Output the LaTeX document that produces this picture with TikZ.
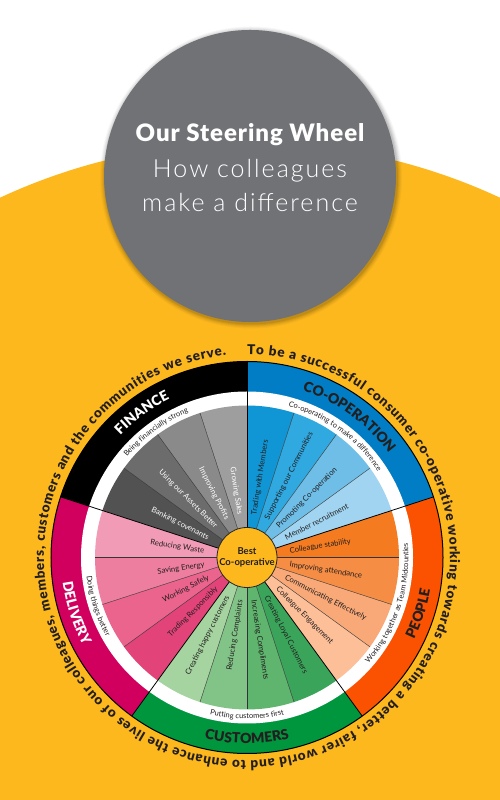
\documentclass[tikz,border=0pt]{standalone}
\usepackage{fontspec}
\setmainfont{Lato}
\newfontfamily\lightf{Lato Light}[LetterSpace=8]
\newfontfamily\titleb{Lato Black}[LetterSpace=4]
\newfontfamily\blackf{Lato Black}
\usetikzlibrary{decorations.text}
\definecolor{cyel}{RGB}{253,184,30}
\definecolor{cgray}{RGB}{112,114,118}
\definecolor{cblue}{RGB}{0,125,196}
\definecolor{corg}{RGB}{250,82,0}
\definecolor{cgrn}{RGB}{0,150,62}
\definecolor{cmag}{RGB}{209,0,95}
\definecolor{ctxt}{RGB}{35,31,32}
\definecolor{f1}{RGB}{158,158,158}
\definecolor{f2}{RGB}{138,138,138}
\definecolor{f3}{RGB}{108,108,108}
\definecolor{f4}{RGB}{82,82,82}
\definecolor{b1}{RGB}{16,150,212}
\definecolor{b2}{RGB}{48,168,224}
\definecolor{b3}{RGB}{110,190,232}
\definecolor{b4}{RGB}{160,212,240}
\definecolor{o1}{RGB}{244,123,32}
\definecolor{o2}{RGB}{246,141,68}
\definecolor{o3}{RGB}{249,169,120}
\definecolor{o4}{RGB}{252,191,152}
\definecolor{g1}{RGB}{165,212,160}
\definecolor{g2}{RGB}{130,196,135}
\definecolor{g3}{RGB}{95,180,110}
\definecolor{g4}{RGB}{58,165,90}
\definecolor{m1}{RGB}{242,155,182}
\definecolor{m2}{RGB}{238,126,160}
\definecolor{m3}{RGB}{234,100,142}
\definecolor{m4}{RGB}{226,68,122}
\newcommand\bandfont{\blackf\fontsize{14}{14}\selectfont}
\newcommand\ringfont{\fontsize{7.5}{8}\selectfont}
\newcommand\outfont{\blackf\fontsize{13.5}{13.5}\selectfont}
\begin{document}
\begin{tikzpicture}[x=1pt,y=1pt,
  seg/.style={inner sep=0pt, font=\fontsize{7.7}{9}\selectfont, text=ctxt},
  segR/.style={seg, anchor=mid west},
  segL/.style={seg, anchor=mid east},
  wtxt/.style={text=white},
  ttl/.style={text=white, anchor=base, inner sep=0pt},
  subline/.style={black!80, line width=0.4pt},
  catline/.style={black, line width=0.8pt}]
\useasboundingbox (0,0) rectangle (500,800);
\fill[white] (0,0) rectangle (500,800);
\begin{scope}
  \clip (0,0) rectangle (500,800);
  \fill[cyel] (250,64.4) circle[radius=593];
\end{scope}
% title disc with soft shadow
\foreach \r/\o in {151/0.03,150/0.04,149/0.05,148/0.06,147/0.08}{
  \fill[black,opacity=\o] (251,622.5) circle[radius=\r];
}
\fill[cgray] (250,624) circle[radius=146];
\node[ttl, font=\titleb\fontsize{24}{24}\selectfont] (title) at (250,658) {Our Steering Wheel};
\node[ttl, font=\lightf\fontsize{25}{25}\selectfont] (sub1) at (250,622) {How colleagues};
\node[ttl, font=\lightf\fontsize{25}{25}\selectfont] (sub2) at (250,588) {make a difference};

\begin{scope}[shift={(247,242.5)}]
  \coordinate (C) at (0,0);
  % category bands
  \fill[cblue] (C) -- (18:196) arc[start angle=18,end angle=90,radius=196] -- cycle;
  \fill[black] (C) -- (90:196) arc[start angle=90,end angle=162,radius=196] -- cycle;
  \fill[cmag] (C) -- (162:196) arc[start angle=162,end angle=234,radius=196] -- cycle;
  \fill[cgrn] (C) -- (234:196) arc[start angle=234,end angle=306,radius=196] -- cycle;
  \fill[corg] (C) -- (306:196) arc[start angle=306,end angle=378,radius=196] -- cycle;
  \fill[white] (C) circle[radius=166];
  % sub segments
  \foreach \a/\c in {72/b1,54/b2,36/b3,18/b4,90/f1,108/f2,126/f3,144/f4,162/m1,180/m2,198/m3,216/m4,234/g1,252/g2,270/g3,288/g4,306/o4,324/o3,342/o2,0/o1}{
    \fill[\c] (C) -- (\a:152) arc[start angle=\a,end angle=\a+18,radius=152] -- cycle;
  }
  % separator lines
  \foreach \a in {36,54,72,108,126,144,180,198,216,252,270,288,324,342,0}{
    \draw[subline] (\a:30) -- (\a:152);
  }
  \foreach \a in {18,90,162,234,306}{
    \draw[catline] (\a:30) -- (\a:196);
  }
  \draw[black, line width=1pt] (C) circle[radius=196];

  % segment texts
  \node[segR, rotate=81] (s1) at (81:43) {Trading with Members};
  \node[segR, rotate=63] (s2) at (63:43) {Supporting our Communities};
  \node[segR, rotate=45] (s3) at (45:43) {Promoting Co-operation};
  \node[segR, rotate=27] (s4) at (27:43) {Member recruitment};
  \node[segL, wtxt, rotate=-81] (s5) at (99:43) {Growing Sales};
  \node[segL, wtxt, rotate=-63] (s6) at (117:43) {Improving Profits};
  \node[segL, wtxt, rotate=-45] (s7) at (135:43) {Using our Assets Better};
  \node[segL, wtxt, rotate=-27] (s8) at (153:43) {Banking covenants};
  \node[segL, rotate=-9] (s9) at (171:43) {Reducing Waste};
  \node[segL, rotate=9] (s10) at (189:43) {Saving Energy};
  \node[segL, rotate=27] (s11) at (207:43) {Working Safely};
  \node[segL, rotate=45] (s12) at (225:43) {Trading Responsibly};
  \node[segL, rotate=63] (s13) at (243:43) {Creating happy customers};
  \node[segL, rotate=81] (s14) at (261:43) {Reducing Complaints};
  \node[segR, rotate=-81] (s15) at (-81:43) {Increasing Compliments};
  \node[segR, rotate=-63] (s16) at (-63:43) {Creating Loyal Customers};
  \node[segR, rotate=9] (s17) at (9:43) {Colleague stability};
  \node[segR, rotate=-9] (s18) at (-9:43) {Improving attendance};
  \node[segR, rotate=-27] (s19) at (-27:43) {Communicating Effectively};
  \node[segR, rotate=-45] (s20) at (-45:43) {Colleague Engagement};

  % white ring texts
  \path[decorate, decoration={text along path, text align=center,
     text={|\ringfont\color{ctxt}|Being financially strong}}]
     (166:156.5) arc[start angle=166,end angle=86,radius=156.5];
  \path[decorate, decoration={text along path, text align=center,
     text={|\ringfont\color{ctxt}|Co-operating to make a difference}}]
     (104:156.5) arc[start angle=104,end angle=4,radius=156.5];
  \path[decorate, decoration={text along path, text align=center,
     text={|\ringfont\color{ctxt}|Working together as Team Midcounties}}]
     (-68:161.5) arc[start angle=-68,end angle=32,radius=161.5];
  \path[decorate, decoration={text along path, text align=center,
     text={|\ringfont\color{ctxt}|Putting customers first}}]
     (230:161.5) arc[start angle=230,end angle=310,radius=161.5];
  \path[decorate, decoration={text along path, text align=center,
     text={|\ringfont\color{ctxt}|Doing things better}}]
     (158:161.5) arc[start angle=158,end angle=238,radius=161.5];

  % band labels
  \path[decorate, decoration={text along path, text align=center,
     text={|\bandfont\color{white}|FINANCE}}]
     (166:176) arc[start angle=166,end angle=86,radius=176];
  \path[decorate, decoration={text along path, text align=center,
     text={|\bandfont\color{ctxt}|CO-OPERATION}}]
     (104:176) arc[start angle=104,end angle=4,radius=176];
  \path[decorate, decoration={text along path, text align=center,
     text={|\bandfont\color{ctxt}|PEOPLE}}]
     (-58:186) arc[start angle=-58,end angle=22,radius=186];
  \path[decorate, decoration={text along path, text align=center,
     text={|\bandfont\color{ctxt}|CUSTOMERS}}]
     (230:186) arc[start angle=230,end angle=310,radius=186];
  \path[decorate, decoration={text along path, text align=center,
     text={|\bandfont\color{white}|DELIVERY}}]
     (158:186) arc[start angle=158,end angle=238,radius=186];

  % outer sentence
  \path[decorate, decoration={text along path, text align=fit to path,
     text={|\outfont\color{ctxt}|To be a successful consumer co-operative working towards creating a better, fairer world and to enhance the lives of our colleagues, members, customers and the communities we serve.}}]
     (90:203) arc[start angle=90,end angle=-264,radius=203];

  % hub
  \node[circle, fill=cyel, draw=black!85, line width=0.8pt, minimum size=60pt, inner sep=0pt,
        align=center, text=ctxt, font=\bfseries\fontsize{9.5}{11}\selectfont] (hub) at (C) {Best\\Co-operative};
\end{scope}
\end{tikzpicture}
\end{document}
